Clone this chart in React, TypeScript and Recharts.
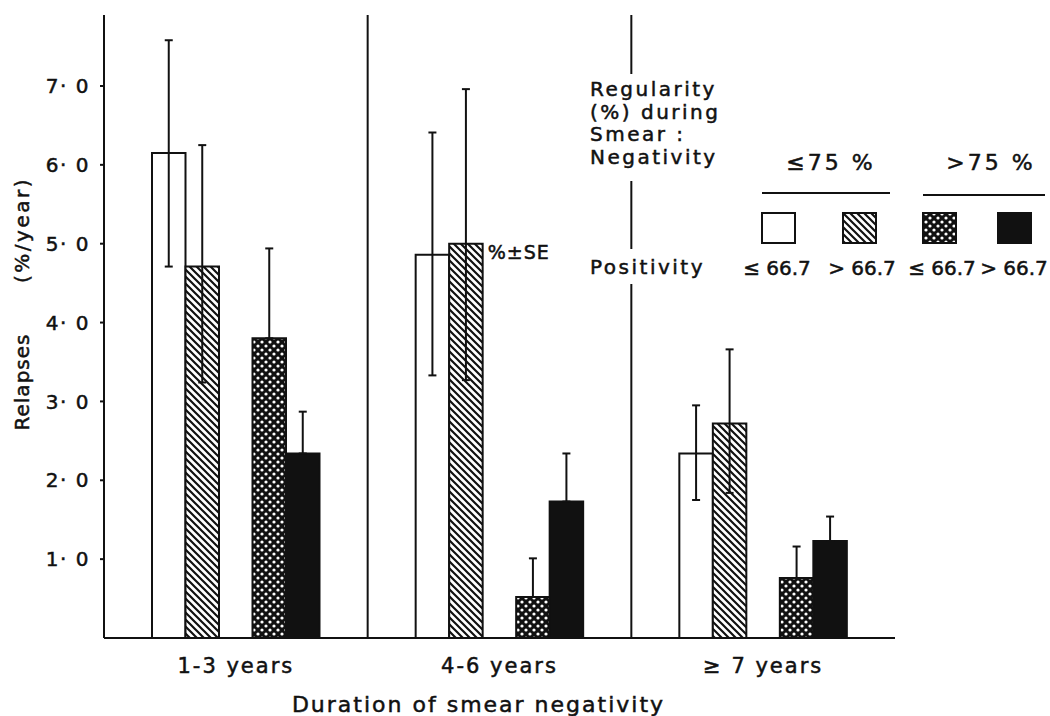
import React from "react";
import {
  BarChart,
  Bar,
  XAxis,
  YAxis,
  CartesianGrid,
  ErrorBar,
  LabelList,
  Label,
} from "recharts";

// duration of smear negativity
const durations = ["1-3 years", "4-6 years", "≥ 7 years"];

// regularity <= 75%  (errors as [below, above])
const lowRegLowPos = [6.15, 4.86, 2.34];
const lowRegLowPosSE = [
  [1.44, 1.43],
  [1.53, 1.55],
  [0.59, 0.61],
];
const lowRegHighPos = [4.71, 5.0, 2.72];
const lowRegHighPosSE = [
  [1.47, 1.54],
  [1.73, 1.96],
  [0.88, 0.94],
];

// regularity > 75%  (only the upper whisker shows above the fill)
const highRegLowPos = [3.8, 0.52, 0.76];
const highRegLowPosSE = [1.14, 0.49, 0.4];
const highRegHighPos = [2.34, 1.73, 1.23];
const highRegHighPosSE = [0.53, 0.61, 0.31];

const seNote = ["", "%±SE", ""];
const yTicks = [1, 2, 3, 4, 5, 6, 7];
const positivityLabels = ["≤ 66.7", "> 66.7", "≤ 66.7", "> 66.7"];

const data = durations.map((duration, i) => ({
  duration,
  a: lowRegLowPos[i],
  aErr: lowRegLowPosSE[i],
  b: lowRegHighPos[i],
  bErr: lowRegHighPosSE[i],
  bNote: seNote[i],
  c: highRegLowPos[i],
  cErr: [0, highRegLowPosSE[i]],
  d: highRegHighPos[i],
  dErr: [0, highRegHighPosSE[i]],
}));

const W = 1050;
const H = 716;
const MARGIN = { top: 15, right: 155, bottom: 48, left: 44 };
const Y_AXIS_W = 60;
const X_AXIS_H = 30;
const INK = "#111";
const FONT = "'DejaVu Sans', sans-serif";
const TEXT_STROKE = 0.5;

function PatternDefs({ prefix }: { prefix: string }) {
  return (
    <defs>
      <pattern id={`${prefix}-hatch`} patternUnits="userSpaceOnUse" width={7} height={7}>
        <rect width={7} height={7} fill="#fff" />
        <path d="M-1,-1 L8,8 M-1,6 L1,8 M6,-1 L8,1" stroke={INK} strokeWidth={2.2} />
      </pattern>
      <pattern id={`${prefix}-cross`} patternUnits="userSpaceOnUse" width={8} height={8}>
        <rect width={8} height={8} fill={INK} />
        <circle cx={2} cy={2} r={1.6} fill="#fff" />
        <circle cx={6} cy={6} r={1.6} fill="#fff" />
      </pattern>
    </defs>
  );
}

const DurationTick = ({ x, y, payload }: any) => (
  <text
    x={x}
    y={y + 27}
    textAnchor="middle"
    fontSize={21}
    fill={INK}
    stroke={INK}
    strokeWidth={TEXT_STROKE}
    letterSpacing={2}
  >
    {payload.value}
  </text>
);

const XTitle = ({ viewBox }: any) => (
  <text
    x={viewBox.x + viewBox.width / 2 - 21}
    y={viewBox.y + 74}
    textAnchor="middle"
    fontSize={22}
    fill={INK}
    stroke={INK}
    strokeWidth={TEXT_STROKE}
    letterSpacing={2}
  >
    Duration of smear negativity
  </text>
);

const YTitle = () => (
  <g fontSize={20} fill={INK} stroke={INK} strokeWidth={TEXT_STROKE}>
    <text
      transform="translate(22,382) rotate(-90)"
      textAnchor="middle"
      dominantBaseline="central"
      letterSpacing={1}
    >
      Relapses
    </text>
    <text
      transform="translate(22,230) rotate(-90)"
      textAnchor="middle"
      dominantBaseline="central"
      letterSpacing={2.5}
    >
      (%/year)
    </text>
  </g>
);

const NoteLabel = ({ x, y, width, value }: any) =>
  value ? (
    <text
      x={x + width + 5}
      y={y + 15}
      fontSize={19}
      fill={INK}
      stroke={INK}
      strokeWidth={TEXT_STROKE}
      letterSpacing={1}
    >
      {value}
    </text>
  ) : null;

// group separators sit on the category band boundaries
const separators = ({ offset }: any) => {
  const left = offset?.left ?? MARGIN.left + Y_AXIS_W;
  const width = offset?.width ?? W - MARGIN.left - Y_AXIS_W - MARGIN.right;
  return [1, 2].map((k) => left + (width * k) / durations.length);
};

const swatchFills = ["#fff", "url(#legend-hatch)", "url(#legend-cross)", INK];
const swatchLeft = [762, 843, 923, 998];
const valueCenters = [777, 862, 942, 1014];

function LegendBlock() {
  const txt: React.CSSProperties = {
    position: "absolute",
    fontSize: 20,
    color: INK,
    whiteSpace: "nowrap",
    WebkitTextStroke: `${TEXT_STROKE}px ${INK}`,
  };
  return (
    <div style={{ position: "absolute", left: 0, top: 0, width: W, height: H, pointerEvents: "none" }}>
      <div
        style={{
          ...txt,
          left: 586,
          top: 74,
          paddingTop: 4,
          paddingLeft: 4,
          width: 134,
          height: 103,
          lineHeight: "22.7px",
          letterSpacing: 2.5,
          background: "#fff",
        }}
      >
        Regularity
        <br />
        (%) during
        <br />
        Smear :
        <br />
        Negativity
      </div>
      <div
        style={{
          ...txt,
          left: 586,
          top: 249,
          paddingLeft: 4,
          width: 118,
          height: 35,
          lineHeight: "36px",
          letterSpacing: 2.5,
          background: "#fff",
        }}
      >
        Positivity
      </div>
      <div style={{ ...txt, left: 776, top: 150, width: 110, textAlign: "center", fontSize: 22, letterSpacing: 3 }}>
        ≤75 %
      </div>
      <div style={{ ...txt, left: 936, top: 150, width: 110, textAlign: "center", fontSize: 22, letterSpacing: 3 }}>
        &gt;75 %
      </div>
      <div style={{ position: "absolute", left: 762, top: 192, width: 128, height: 2, background: INK }} />
      <div style={{ position: "absolute", left: 923, top: 194, width: 122, height: 2, background: INK }} />
      <svg style={{ position: "absolute", left: 0, top: 0 }} width={W} height={H}>
        <PatternDefs prefix="legend" />
        {swatchFills.map((fill, i) => (
          <rect
            key={i}
            x={swatchLeft[i]}
            y={213}
            width={33}
            height={30}
            fill={fill}
            stroke={INK}
            strokeWidth={2}
          />
        ))}
        {positivityLabels.map((label, i) => (
          <text
            key={i}
            x={valueCenters[i]}
            y={275}
            textAnchor="middle"
            fontSize={20}
            fill={INK}
            stroke={INK}
            strokeWidth={TEXT_STROKE}
          >
            {label}
          </text>
        ))}
      </svg>
    </div>
  );
}

export default function App() {
  return (
    <div
      style={{
        position: "absolute",
        left: 0,
        top: 0,
        width: W,
        height: H,
        background: "#fff",
        fontFamily: FONT,
      }}
    >
      <BarChart width={W} height={H} data={data} margin={MARGIN} barGap={0} barSize={33.5}>
        <PatternDefs prefix="chart" />
        <CartesianGrid
          horizontal={false}
          stroke={INK}
          strokeWidth={2}
          verticalCoordinatesGenerator={separators}
        />
        <XAxis
          dataKey="duration"
          height={X_AXIS_H}
          axisLine={{ stroke: INK, strokeWidth: 2 }}
          tickLine={false}
          tick={<DurationTick />}
          interval={0}
        >
          <Label content={<XTitle />} />
        </XAxis>
        <YAxis
          width={Y_AXIS_W}
          domain={[0, 7.9]}
          ticks={yTicks}
          tickFormatter={(v: number) => `${Math.floor(v)}· ${Math.round((v % 1) * 10)}`}
          axisLine={{ stroke: INK, strokeWidth: 2 }}
          tickLine={{ stroke: INK, strokeWidth: 2 }}
          tickSize={4}
          tickMargin={10}
          tick={{ fontSize: 20, fill: INK, stroke: INK, strokeWidth: TEXT_STROKE, letterSpacing: 1.5 }}
        >
          <Label content={<YTitle />} />
        </YAxis>
        <Bar dataKey="a" fill="#fff" stroke={INK} strokeWidth={2} isAnimationActive={false}>
          <ErrorBar dataKey="aErr" width={4} stroke={INK} strokeWidth={2} />
        </Bar>
        <Bar dataKey="b" fill="url(#chart-hatch)" stroke={INK} strokeWidth={2} isAnimationActive={false}>
          <ErrorBar dataKey="bErr" width={4} stroke={INK} strokeWidth={2} />
          <LabelList dataKey="bNote" content={<NoteLabel />} />
        </Bar>
        <Bar dataKey="gap" fill="none" isAnimationActive={false} legendType="none" />
        <Bar dataKey="c" fill="url(#chart-cross)" stroke={INK} strokeWidth={2} isAnimationActive={false}>
          <ErrorBar dataKey="cErr" width={4} stroke={INK} strokeWidth={2} />
        </Bar>
        <Bar dataKey="d" fill={INK} stroke={INK} strokeWidth={2} isAnimationActive={false}>
          <ErrorBar dataKey="dErr" width={4} stroke={INK} strokeWidth={2} />
        </Bar>
      </BarChart>
      <LegendBlock />
    </div>
  );
}
